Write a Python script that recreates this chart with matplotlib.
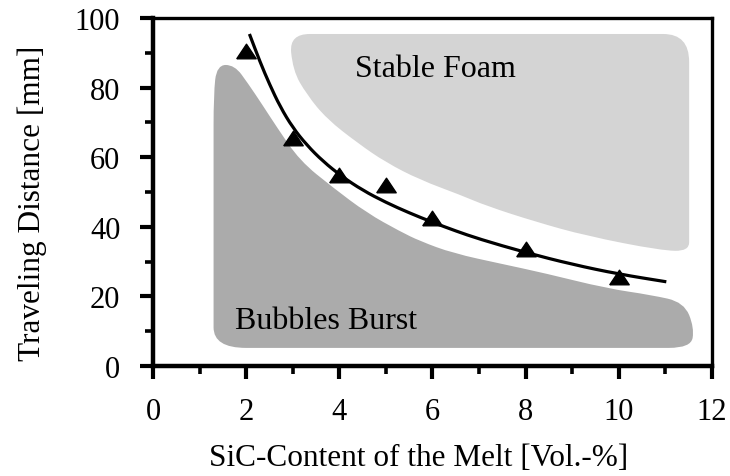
import numpy as np
import matplotlib

matplotlib.use("Agg")
import matplotlib.pyplot as plt  # noqa: E402
from matplotlib.path import Path  # noqa: E402
from matplotlib.patches import PathPatch  # noqa: E402

plt.rcParams.update({
    "font.family": ["Liberation Serif", "DejaVu Serif"],
    "font.size": 22,
})

# measured triangles (SiC vol.-% vs traveling distance, mm)
sic = [2, 3, 4, 5, 6, 8, 10]
dist = [90.5, 65.5, 55.0, 52.0, 42.5, 33.5, 25.5]

# fitted curve
fit_x = [2.07, 2.3, 2.5, 2.73, 3.0, 3.3, 3.65, 4.05, 4.5, 5.0, 5.5, 6.0, 6.5, 7.0, 8.0, 9.0, 10.0, 11.02]
fit_y = [95.4, 87.3, 81.0, 74.5, 68.5, 63.5, 58.8, 54.5, 50.5, 47.0, 44.0, 41.3, 38.8, 36.5, 32.6, 29.2, 26.4, 24.2]

# region outlines (control polygons, clockwise)
foam_x = [2.93, 3.8, 10.4, 11.51, 11.51, 11.51, 11.51, 10.9, 9.3, 8.2, 7.16, 6.59, 5.73,
          5.0, 4.4, 3.73, 3.3, 3.0]
foam_y = [95.4, 95.4, 95.4, 95.4, 79.4, 38.0, 33.0, 33.2, 37.4, 41.5, 46.0, 49.2, 53.5,
          58.5, 64.0, 71.0, 78.0, 85.0]

burst_x = [1.30, 1.30, 1.37, 1.75, 2.05, 2.35, 2.65, 3.15, 3.87, 4.59, 5.3, 5.73, 6.44, 7.5,
           8.4, 9.74, 10.7, 11.4, 11.62, 11.55, 10.6, 2.7, 1.30, 1.30]
burst_y = [60.0, 78.0, 86.5, 86.5, 81.0, 75.0, 68.8, 59.0, 51.2, 44.0, 38.7, 35.9, 32.4, 29.3,
           26.7, 22.3, 20.4, 18.3, 11.0, 5.2, 5.2, 5.2, 5.2, 17.0]


def blob(xs, ys, closed=True):
    """Quadratic-bezier outline through the midpoints of the control polygon."""
    p = np.column_stack([xs, ys])
    if closed:
        m = (p + np.roll(p, -1, axis=0)) / 2
        verts, codes = [m[-1]], [Path.MOVETO]
        for i in range(len(p)):
            verts += [p[i], m[i]]
            codes += [Path.CURVE3, Path.CURVE3]
        verts.append(m[-1])
        codes.append(Path.CLOSEPOLY)
    else:
        m = (p[:-1] + p[1:]) / 2
        verts, codes = [p[0], m[0]], [Path.MOVETO, Path.LINETO]
        for i in range(1, len(p) - 1):
            verts += [p[i], m[i]]
            codes += [Path.CURVE3, Path.CURVE3]
        verts.append(p[-1])
        codes.append(Path.LINETO)
    return Path(verts, codes)


fig = plt.figure(figsize=(7.3, 4.77), dpi=100)
ax = fig.add_axes([0.2096, 0.2306, 0.7657, 0.7296])

ax.add_patch(PathPatch(blob(foam_x, foam_y), fc="#d4d4d4", ec="none", zorder=1))
ax.add_patch(PathPatch(blob(burst_x, burst_y), fc="#ababab", ec="none", zorder=1))

ax.add_patch(PathPatch(blob(fit_x, fit_y, closed=False), fill=False, ec="k", lw=2.3,
                       capstyle="butt", zorder=3))
tri = [(-1, -0.75), (1, -0.75), (0, 0.75), (-1, -0.75)]
ax.plot(sic, dist, ls="none", marker=tri, ms=14, color="k", zorder=4)

ax.text(4.33, 83.4, "Stable Foam", fontsize=23, ha="left", va="baseline", zorder=5)
ax.text(1.76, 10.9, "Bubbles Burst", fontsize=23, ha="left", va="baseline", zorder=5)

ax.set_xlim(0, 12)
ax.set_ylim(0, 100)
ax.set_xticks(range(0, 13, 2))
ax.set_xticks(range(1, 12, 2), minor=True)
ax.set_yticks(range(0, 101, 20))
ax.set_yticks(range(10, 100, 20), minor=True)
ax.tick_params(which="major", direction="out", length=9.5, width=3, pad=13)
ax.tick_params(which="minor", direction="out", length=6, width=2.6)
ax.tick_params(axis="y", which="major", pad=14)

for side, w in (("left", 3.2), ("bottom", 3.2), ("top", 2.4), ("right", 2.4)):
    ax.spines[side].set_linewidth(w)

ax.set_xlabel("SiC-Content of the Melt [Vol.-%]", fontsize=22.5, x=0.475, labelpad=12)
ax.set_ylabel("Traveling Distance [mm]", fontsize=22.5, y=0.47, labelpad=20)

fig.savefig("out.png", dpi=100)
